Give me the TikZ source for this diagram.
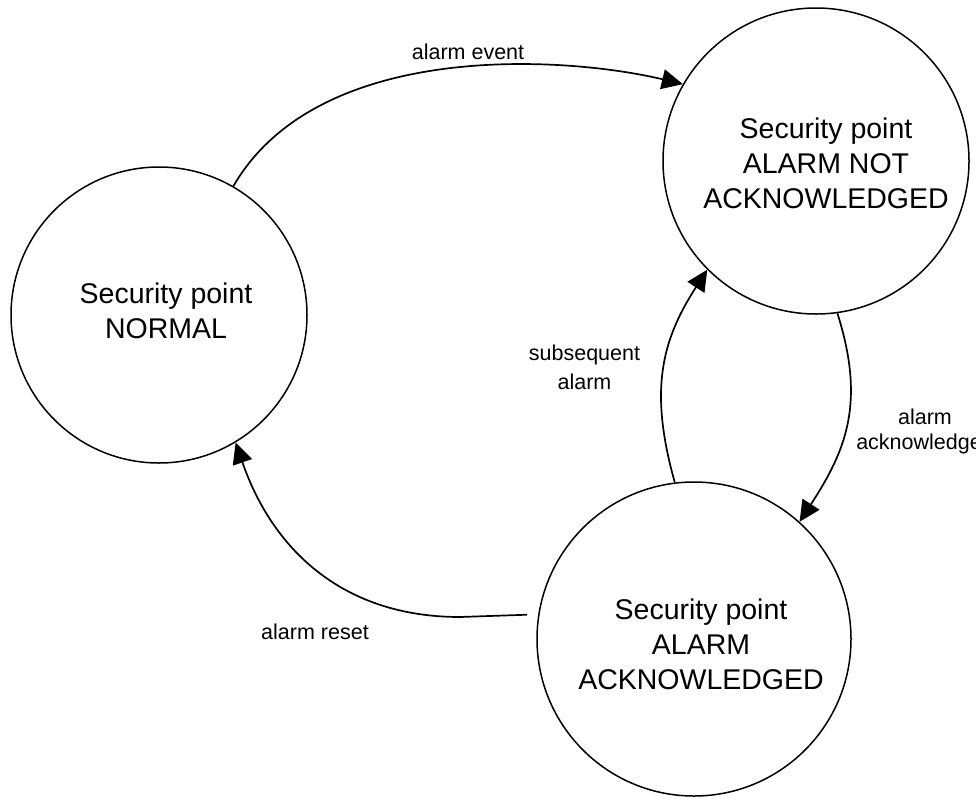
\documentclass[tikz,border=0pt]{standalone}
\usepackage{fontspec}
\setmainfont{Liberation Sans}
\usetikzlibrary{arrows.meta}

\begin{document}
\begin{tikzpicture}[x=1pt, y=-1pt,
  statecircle/.style={circle, draw, line width=1.5pt, minimum size=#1, inner sep=0pt},
  statetext/.style={align=center, font=\fontsize{28.5}{35}\selectfont},
  edgelabel/.style={align=center, font=\fontsize{21.5}{29}\selectfont},
  trans/.style={line width=1.7pt, -{Triangle[length=21pt, width=20pt]}}]
\useasboundingbox (0,0) rectangle (976,798);

% states
\node[statecircle=296pt] (normal) at (159,315) {};
\node[statetext] (normaltext) at (166,311) {Security point\\NORMAL};

\node[statecircle=306pt] (unack) at (816,161) {};
\node[statetext] (unacktext) at (826,163) {Security point\\ALARM NOT\\ACKNOWLEDGED};

\node[statecircle=314pt] (ack) at (694,639) {};
\node[statetext] (acktext) at (701,644.5) {Security point\\ALARM\\ACKNOWLEDGED};

% transitions
\draw[trans] (normal.60.7) .. controls +(85,-147) and +(-117,-28) .. (unack.150.2);
\draw[trans] (unack.-82.1) .. controls +(28.5,90) and +(46.3,-71.2) .. (ack.48.7);
\draw[trans] (ack.97.9) .. controls +(-25.7,-91.5) and +(-46.2,71.4) .. (unack.225.8);
\coordinate (resetbend) at (460,617);
\draw[trans, shorten <=11pt] (ack.171.95) -- (resetbend)
  .. controls +(-120,0) and +(35.8,104) .. (normal.-59.3);

% transition labels
\node[edgelabel, anchor=base] (lblevent) at (468,59) {alarm event};
\node[edgelabel, anchor=base] (lblreset) at (315,639) {alarm reset};
\node[edgelabel] (lblsub) at (584.5,367.5) {subsequent\\alarm};
\node[edgelabel, font=\fontsize{21.5}{25}\selectfont] (lblack) at (925,431) {alarm\\acknowledged};
\end{tikzpicture}
\end{document}
